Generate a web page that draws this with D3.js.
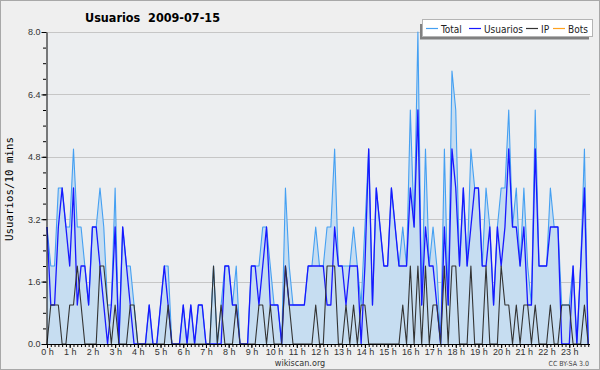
<!DOCTYPE html>
<html>
<head>
<meta charset="utf-8">
<script src="https://cdn.jsdelivr.net/npm/d3@7"></script>
<style>
  body { margin: 0; background: #fff; }
  svg { display: block; font-family: "DejaVu Sans Condensed", "Liberation Sans Narrow", "DejaVu Sans", sans-serif; }
</style>
</head>
<body>
<svg width="600" height="370"></svg>
<script>
// one value per 10 minutes, 144 slots
const total = [3,2,2,4,4,3,3,5,3,3,2,1,3,3,4,3,1,1,4,0,3,2,2,1,
               0,0,0,1,0,0,1,2,2,0,0,0,1,0,1,0,1,1,0,0,2,0,1,2,
               2,1,2,0,0,0,2,2,2,3,3,2,1,1,0,4,2,1,1,1,1,2,2,3,
               2,2,3,3,5,2,2,2,2,3,2,1,3,5,1,4,3,2,2,4,3,2,3,2,
               6,3,8,1,5,2,3,2,0,5,1,7,6,2,4,2,5,4,4,2,4,3,1,3,
               4,4,6,3,4,2,4,2,1,6,2,2,2,4,3,3,1,1,1,2,0,2,5,0]
const usuarios = [3,1,1,3,4,3,2,4,1,2,2,1,3,3,2,1,0,1,3,0,3,2,1,0,
                  0,0,0,1,0,0,1,2,1,0,0,0,1,0,1,0,1,1,0,0,0,0,0,2,
                  2,1,1,0,0,0,2,2,1,2,3,1,1,1,0,2,1,1,1,1,1,2,2,2,
                  2,2,1,1,3,2,2,1,2,2,2,0,2,5,1,4,3,2,2,4,3,2,2,2,
                  4,3,6,1,3,2,2,1,0,3,1,5,4,2,4,2,3,4,4,2,2,3,1,3,
                  2,3,5,3,3,2,3,1,1,5,2,2,2,3,3,3,0,0,0,2,0,2,4,0]
const ip = [0,1,1,1,0,0,1,1,2,1,0,0,0,0,2,2,1,0,1,0,0,0,1,1,
            0,0,0,0,0,0,0,0,1,0,0,0,0,0,0,0,0,0,0,0,2,0,1,0,
            0,0,1,0,0,0,0,0,1,1,0,1,0,0,0,2,1,0,0,0,0,0,0,1,
            0,0,2,2,2,0,0,1,0,1,0,1,1,0,0,0,0,0,0,0,0,0,1,0,
            2,0,2,0,2,0,1,1,0,2,0,2,2,0,0,0,2,0,0,0,2,0,0,0,
            2,1,1,0,1,0,1,1,0,1,0,0,0,1,0,0,1,1,1,0,0,0,1,0]

const hourLabels = ["0 h","1 h","2 h","3 h","4 h","5 h","6 h","7 h","8 h","9 h","10 h","11 h",
                    "12 h","13 h","14 h","15 h","16 h","17 h","18 h","19 h","20 h","21 h","22 h","23 h"]
const yTicks = [0, 1.6, 3.2, 4.8, 6.4, 8.0]
const legendNames = ["Total", "Usuarios", "IP", "Bots"]

const svg = d3.select("svg"),
      plot = {left: 46, right: 590, top: 32, bottom: 344}

const x = d3.scaleLinear().domain([0, 144]).range([47, 592]),
      y = d3.scaleLinear().domain([0, 8]).range([plot.bottom, plot.top]),
      colors = d3.scaleOrdinal().domain(legendNames).range(["#45a0f2", "#1818ff", "#333333", "#ffa21f"])

// backgrounds
svg.append("rect")
  .attr("x", 0.5).attr("y", 0.5).attr("width", 599).attr("height", 369)
  .attr("fill", "#efefef").attr("stroke", "#a8a8a8")

svg.append("rect")
  .attr("x", plot.left).attr("y", plot.top)
  .attr("width", plot.right - plot.left).attr("height", plot.bottom - plot.top)
  .attr("fill", "#eceef0")

// grid
svg.append("g").selectAll("line")
  .data(yTicks.slice(1))
  .enter().append("line")
    .attr("x1", plot.left).attr("x2", plot.right)
    .attr("y1", d => Math.round(y(d)) + 0.5).attr("y2", d => Math.round(y(d)) + 0.5)
    .attr("stroke", "#c6c6c6")

const area = d3.area()
  .x((d, i) => x(i))
  .y0(y(0))
  .y1(d => y(d))

const line = d3.line()
  .x((d, i) => x(i))
  .y(d => y(d))

svg.append("path")
  .attr("d", area(total))
  .attr("fill", "#c6ddf1")

const series = [
  {id: "Total", values: total, width: 1.1},
  {id: "Usuarios", values: usuarios, width: 1.3},
  {id: "IP", values: ip, width: 1.1}
]

svg.selectAll(".serie")
  .data(series)
  .enter().append("path")
    .attr("class", "serie")
    .attr("d", d => line(d.values))
    .attr("fill", "none")
    .attr("stroke", d => colors(d.id))
    .attr("stroke-width", d => d.width)
    .attr("stroke-linejoin", "round")

// x axis: 10 minute ticks and hour labels
svg.append("g")
  .attr("transform", "translate(0," + plot.bottom + ")")
  .call(d3.axisBottom(x).tickValues(d3.range(0, 144)).tickSize(3).tickFormat("").tickSizeOuter(0))
  .call(g => g.select(".domain").remove())

svg.append("g")
  .attr("transform", "translate(0," + plot.bottom + ")")
  .call(d3.axisBottom(x).tickValues(d3.range(0, 144, 6)).tickSize(4).tickPadding(1)
        .tickFormat(d => hourLabels[d / 6]).tickSizeOuter(0))
  .call(g => g.select(".domain").remove())
  .selectAll("text").attr("font-size", 9).attr("fill", "#333")

svg.append("line")
  .attr("x1", plot.left).attr("x2", plot.right)
  .attr("y1", plot.bottom + 0.5).attr("y2", plot.bottom + 0.5)
  .attr("stroke", "#000")

// y axis
svg.append("g")
  .attr("transform", "translate(" + plot.left + ",0)")
  .call(d3.axisLeft(y).tickValues(d3.range(0, 8.01, 0.4)).tickSize(3).tickFormat("").tickSizeOuter(0))
  .call(g => g.select(".domain").remove())

svg.append("g")
  .attr("transform", "translate(" + (plot.left + 0.5) + ",0)")
  .call(d3.axisLeft(y).tickValues(yTicks).tickSize(5).tickPadding(1)
        .tickFormat(d3.format(".1f")).tickSizeOuter(0))
  .selectAll("text").attr("font-size", 9).attr("fill", "#333")

// titles
svg.append("text")
  .attr("x", 85).attr("y", 22)
  .attr("font-size", 12.5).attr("font-weight", "bold")
  .style("white-space", "pre")
  .text("Usuarios  2009-07-15")

svg.append("text")
  .attr("transform", "translate(13,189) rotate(-90)")
  .attr("text-anchor", "middle")
  .attr("font-family", "DejaVu Sans Mono, monospace")
  .attr("font-size", 10.8)
  .text("Usuarios/10 mins")

svg.append("text")
  .attr("x", 300).attr("y", 366)
  .attr("text-anchor", "middle")
  .attr("font-size", 9).attr("fill", "#333")
  .text("wikiscan.org")

svg.append("text")
  .attr("x", 589).attr("y", 366)
  .attr("text-anchor", "end")
  .attr("font-size", 7).attr("fill", "#444")
  .text("CC BY-SA 3.0")

// legend
const legend = svg.append("g")

legend.append("rect")
  .attr("x", 420).attr("y", 24).attr("width", 169).attr("height", 15.5)
  .attr("fill", "#808080")

legend.append("rect")
  .attr("x", 422.5).attr("y", 19.5).attr("width", 170).attr("height", 17)
  .attr("fill", "#fff").attr("stroke", "#b4b4b4")

const legendX = [426, 469, 526, 553]

const items = legend.selectAll(".item")
  .data(legendNames)
  .enter().append("g")
    .attr("class", "item")
    .attr("transform", (d, i) => "translate(" + legendX[i] + ",0)")

items.append("line")
  .attr("x1", 0).attr("x2", 12)
  .attr("y1", 28.5).attr("y2", 28.5)
  .attr("stroke", d => colors(d))
  .attr("stroke-width", 1.2)

items.append("text")
  .attr("x", 15).attr("y", 32.5)
  .attr("font-size", 10).attr("fill", "#222")
  .text(d => d)
</script>
</body>
</html>
